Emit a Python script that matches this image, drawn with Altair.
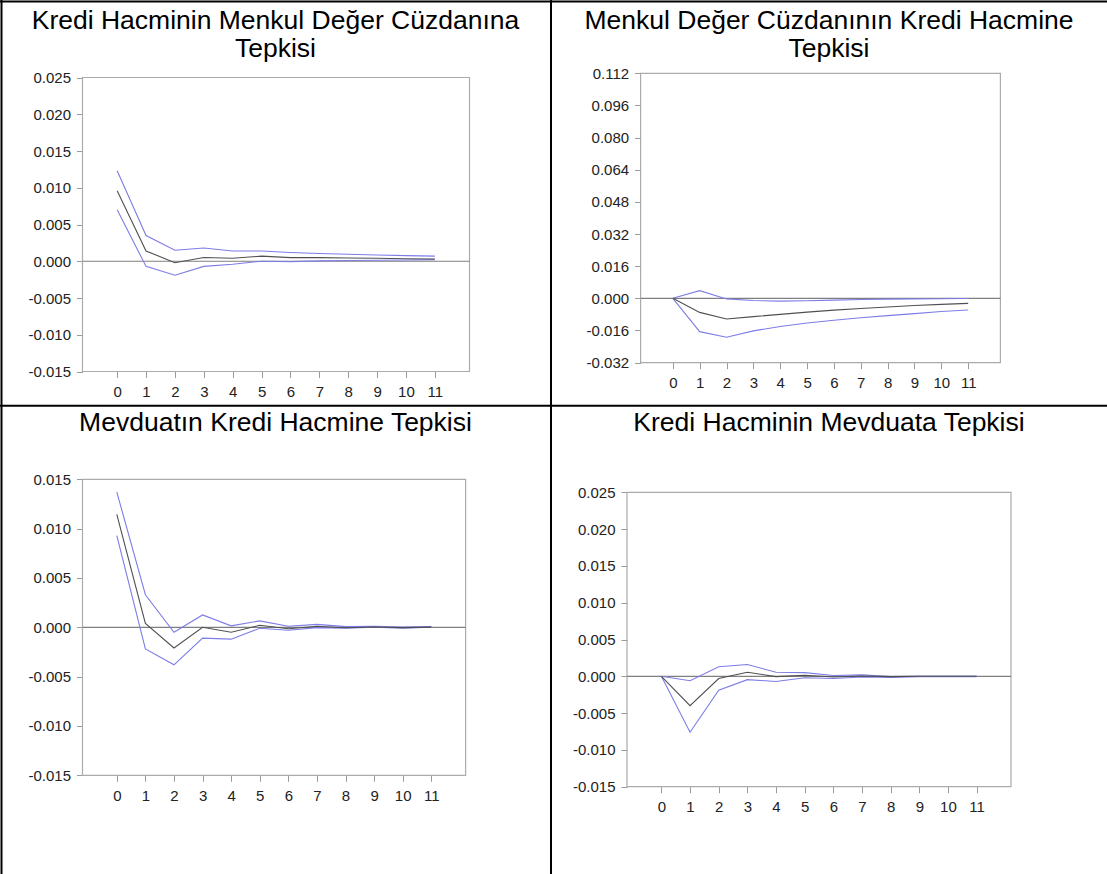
import altair as alt
import pandas as pd

# Impulse-response horizon (periods after the shock)
steps = list(range(12))

# Kredi Hacminin Menkul Değer Cüzdanına Tepkisi
p1_response = [0.0096, 0.0014, -0.0002, 0.0005, 0.0004, 0.0007, 0.0005, 0.0005, 0.00045, 0.0004, 0.00035, 0.0003]
p1_upper = [0.0123, 0.0035, 0.0015, 0.0018, 0.0014, 0.0014, 0.0012, 0.00105, 0.00095, 0.00085, 0.00077, 0.0007]
p1_lower = [0.0070, -0.0007, -0.0019, -0.0007, -0.0004, 0.0, -0.00005, 0.00005, 0.0001, 0.00014, 0.00018, 0.00022]
p1_ticks = [-0.015, -0.010, -0.005, 0.0, 0.005, 0.010, 0.015, 0.020, 0.025]

# Menkul Değer Cüzdanının Kredi Hacmine Tepkisi
p2_response = [0.0, -0.0070, -0.0103, -0.0091, -0.0080, -0.0069, -0.0059, -0.0051, -0.0043, -0.0036, -0.0030, -0.0025]
p2_upper = [0.0, 0.0038, -0.0003, -0.0011, -0.0014, -0.0012, -0.0009, -0.0006, -0.0004, -0.0003, -0.0002, -0.0001]
p2_lower = [0.0, -0.0166, -0.0194, -0.0162, -0.0140, -0.0123, -0.0109, -0.0097, -0.0086, -0.0076, -0.0066, -0.0058]
p2_ticks = [-0.032, -0.016, 0.0, 0.016, 0.032, 0.048, 0.064, 0.080, 0.096, 0.112]

# Mevduatın Kredi Hacmine Tepkisi
p3_response = [0.01145, 0.0004, -0.0021, 0.0, -0.0005, 0.0002, -0.00015, 0.0001, -0.00005, 0.00003, -0.00003, 0.00002]
p3_upper = [0.0137, 0.0033, -0.0005, 0.00125, 0.00015, 0.00065, 0.0001, 0.0003, 0.00007, 0.0001, 0.00003, 0.00007]
p3_lower = [0.0093, -0.0022, -0.0038, -0.0011, -0.0012, -0.0001, -0.0003, -0.00003, -0.0001, 0.0, -0.0001, 0.0]
p3_ticks = [-0.015, -0.010, -0.005, 0.0, 0.005, 0.010, 0.015]

# Kredi Hacminin Mevduata Tepkisi
p4_response = [0.0, -0.0040, -0.0003, 0.00055, -0.00005, 0.00015, -0.0001, 0.00005, -0.00005, 0.0, 0.0, 0.0]
p4_upper = [0.0, -0.0006, 0.0013, 0.0016, 0.00055, 0.0005, 0.0001, 0.0002, -0.00005, 0.0, 0.0, 0.0]
p4_lower = [0.0, -0.0076, -0.0019, -0.00045, -0.0007, -0.0002, -0.0003, -0.0001, -0.00015, -0.00005, -0.00005, -0.00005]
p4_ticks = [-0.015, -0.010, -0.005, 0.0, 0.005, 0.010, 0.015, 0.020, 0.025]

panel_titles = [
    "Kredi Hacminin Menkul Değer Cüzdanına\nTepkisi",
    "Menkul Değer Cüzdanının Kredi Hacmine\nTepkisi",
    "Mevduatın Kredi Hacmine Tepkisi",
    "Kredi Hacminin Mevduata Tepkisi",
]

X_DOMAIN = [-1.2, 12.2]
BAND = "#7d7de6"
MID = "#505050"
ZERO = "#7f7f7f"
FRAME = "#ababab"
TICK = "#9a9a9a"
LABEL_FONT = "Liberation Sans Narrow, Arial Narrow, Liberation Sans"
TITLE_FONT = "Liberation Sans"

Y_LABEL = "(datum.value < -1e-9 ? '-' : '') + format(abs(datum.value), '.3f')"


def panel(title, resp, upper, lower, ticks, frame, size, title_top, first_col, first_row):
    width, height = size
    left, right, top, bottom = frame

    rows = []
    for name, vals in (("alt", lower), ("ust", upper), ("tepki", resp)):
        for s, v in zip(steps, vals):
            rows.append({"adim": s, "deger": v, "seri": name})
    lines_df = pd.DataFrame(rows)

    x_scale = alt.Scale(domain=X_DOMAIN, range=[left, right], nice=False, zero=False)
    y_scale = alt.Scale(domain=[ticks[0], ticks[-1]], range=[bottom, top], nice=False, zero=False)

    x_axis = alt.Axis(
        values=steps, format="d", title=None, grid=False, domain=False,
        orient="bottom", offset=-(height - bottom), tickSize=6, tickColor=TICK,
        labelFont=LABEL_FONT, labelFontSize=15, labelColor="#222222",
        labelPadding=7, labelFlush=False, labelOverlap=False,
    )
    y_axis = alt.Axis(
        values=ticks, labelExpr=Y_LABEL, title=None, grid=False, domain=False,
        orient="left", offset=-left, tickSize=6, tickColor=TICK,
        labelFont=LABEL_FONT, labelFontSize=15, labelColor="#222222",
        labelPadding=6, labelFlush=False, labelOverlap=False,
    )

    box_df = pd.DataFrame([{"x0": X_DOMAIN[0], "x1": X_DOMAIN[1],
                            "y0": ticks[0], "y1": ticks[-1], "z": 0.0}])

    frame_box = alt.Chart(box_df).mark_rect(filled=False, color=FRAME, strokeWidth=1.2).encode(
        x=alt.X("x0:Q", scale=x_scale, axis=x_axis),
        x2="x1:Q",
        y=alt.Y("y0:Q", scale=y_scale, axis=y_axis),
        y2="y1:Q",
    )
    zero_line = alt.Chart(box_df).mark_rule(color=ZERO, strokeWidth=1.2).encode(
        x=alt.X("x0:Q", scale=x_scale, axis=x_axis),
        x2="x1:Q",
        y=alt.Y("z:Q", scale=y_scale, axis=y_axis),
    )
    curves = alt.Chart(lines_df).mark_line(strokeWidth=1.1).encode(
        x=alt.X("adim:Q", scale=x_scale, axis=x_axis),
        y=alt.Y("deger:Q", scale=y_scale, axis=y_axis),
        color=alt.Color("seri:N", scale=alt.Scale(domain=["alt", "ust", "tepki"],
                                                  range=[BAND, BAND, MID]), legend=None),
        detail="seri:N",
    )

    one = alt.Data(values=[{"baslik": title}])

    # panel heading, centred in its table cell
    heading = alt.Chart(one).mark_text(
        font=TITLE_FONT, fontSize=26.5, color="black", align="center",
        baseline="top", lineBreak="\n", lineHeight=28,
    ).encode(x=alt.value(width / 2), y=alt.value(title_top), text="baslik:N")

    # table grid: a left and a top bar for each cell
    lx = 0.5 if first_col else -1.0
    ty = 0.5 if first_row else -0.2
    left_bar = alt.Chart(one).mark_rect(color="black").encode(
        x=alt.value(lx), x2=alt.value(lx + 2), y=alt.value(0), y2=alt.value(height))
    top_bar = alt.Chart(one).mark_rect(color="black").encode(
        x=alt.value(0), x2=alt.value(width), y=alt.value(ty), y2=alt.value(ty + 2))

    return alt.layer(frame_box, zero_line, curves, heading, left_bar, top_bar).properties(
        width=width, height=height,
    )


c1 = panel(panel_titles[0], p1_response, p1_upper, p1_lower,
           p1_ticks, (82.5, 469.5, 77.5, 371.5), (551, 405), 8, True, True)
c2 = panel(panel_titles[1], p2_response, p2_upper, p2_lower,
           p2_ticks, (89.6, 449.4, 73.3, 362.6), (556, 405), 8, False, True)
c3 = panel(panel_titles[2], p3_response, p3_upper, p3_lower,
           p3_ticks, (82.5, 465.6, 74.3, 370.3), (551, 469), 5, True, False)
c4 = panel(panel_titles[3], p4_response, p4_upper, p4_lower,
           p4_ticks, (76.0, 460.0, 87.3, 381.7), (556, 469), 5, False, False)

chart = alt.concat(
    c1, c2, c3, c4, columns=2, spacing=0, bounds="flush", align="each",
).properties(padding=0, background="white").configure_view(strokeWidth=0)

chart.save("out.html", embed_options={"renderer": "svg", "actions": False})
